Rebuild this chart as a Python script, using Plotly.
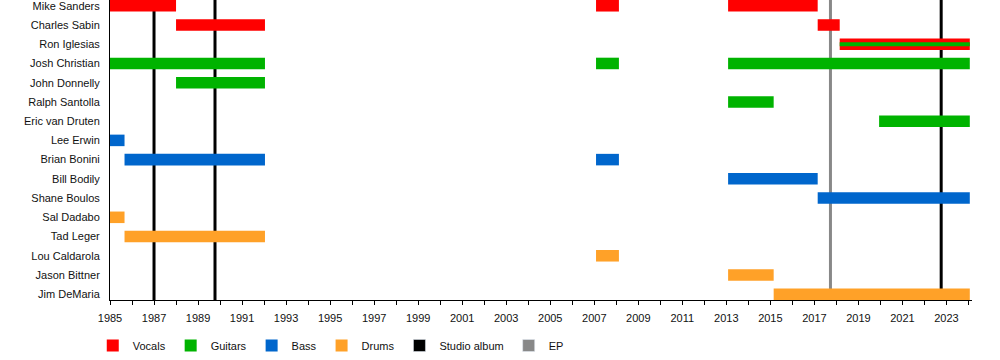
import plotly.graph_objects as go

members = ["Mike Sanders", "Charles Sabin", "Ron Iglesias", "Josh Christian", "John Donnelly",
           "Ralph Santolla", "Eric van Druten", "Lee Erwin", "Brian Bonini", "Bill Bodily",
           "Shane Boulos", "Sal Dadabo", "Tad Leger", "Lou Caldarola", "Jason Bittner", "Jim DeMaria"]

vocals_who = ["Mike Sanders", "Mike Sanders", "Mike Sanders", "Charles Sabin", "Charles Sabin", "Ron Iglesias"]
vocals_start = [1985.0, 2007.08, 2013.08, 1988.0, 2017.15, 2018.15]
vocals_end = [1988.0, 2008.12, 2017.15, 1992.04, 2018.15, 2024.06]

guitars_who = ["Josh Christian", "Josh Christian", "Josh Christian", "John Donnelly",
               "Ralph Santolla", "Eric van Druten"]
guitars_start = [1985.0, 2007.08, 2013.08, 1988.0, 2013.08, 2019.94]
guitars_end = [1992.04, 2008.12, 2024.06, 1992.04, 2015.15, 2024.06]

# secondary role (thin stripe)
second_guitars_who = ["Ron Iglesias"]
second_guitars_start = [2018.15]
second_guitars_end = [2024.06]

bass_who = ["Lee Erwin", "Brian Bonini", "Brian Bonini", "Bill Bodily", "Shane Boulos"]
bass_start = [1985.0, 1985.66, 2007.08, 2013.08, 2017.15]
bass_end = [1985.66, 1992.04, 2008.12, 2017.15, 2024.06]

drums_who = ["Sal Dadabo", "Tad Leger", "Lou Caldarola", "Jason Bittner", "Jim DeMaria"]
drums_start = [1985.0, 1985.66, 2007.08, 2013.08, 2015.15]
drums_end = [1985.66, 1992.04, 2008.12, 2015.15, 2024.06]

studio_albums = [1987.0, 1989.77, 2022.76]
eps = [2017.73]

year_ticks = list(range(1985, 2025))
year_labels = [str(y) if y % 2 == 1 else "" for y in year_ticks]

colors = {"Vocals": "#FF0000", "Guitars": "#00B300", "Bass": "#0066CC", "Drums": "#FFA128",
          "Studio album": "#000000", "EP": "#888888"}

BAR_W = 0.6

fig = go.Figure()


def add_role(name, who, start, end, width=BAR_W, legend=True):
    fig.add_trace(go.Bar(
        orientation="h", y=who, base=start, x=[e - s for s, e in zip(start, end)],
        width=width, marker=dict(color=colors[name], line=dict(width=0)),
        name=name, showlegend=legend, hoverinfo="skip"))


add_role("Vocals", vocals_who, vocals_start, vocals_end)
add_role("Guitars", guitars_who, guitars_start, guitars_end)
add_role("Bass", bass_who, bass_start, bass_end)
add_role("Drums", drums_who, drums_start, drums_end)
add_role("Guitars", second_guitars_who, second_guitars_start, second_guitars_end, width=0.2, legend=False)

# legend-only entries for the release lines
for nm in ["Studio album", "EP"]:
    fig.add_trace(go.Bar(orientation="h", y=[None], x=[None], name=nm,
                         marker=dict(color=colors[nm]), showlegend=True))

for d in studio_albums:
    fig.add_shape(type="line", xref="x", yref="paper", x0=d, x1=d, y0=0, y1=1,
                  line=dict(color=colors["Studio album"], width=3), layer="below")
for d in eps:
    fig.add_shape(type="line", xref="x", yref="paper", x0=d, x1=d, y0=0, y1=1,
                  line=dict(color=colors["EP"], width=3), layer="below")

fig.update_layout(
    width=1000, height=360,
    margin=dict(l=110, r=28, t=0, b=60),
    barmode="overlay",
    plot_bgcolor="white", paper_bgcolor="white",
    font=dict(family="Liberation Sans, Arial, sans-serif", size=11, color="#111111"),
    legend=dict(orientation="h", x=-0.02, xanchor="left", yref="container", y=0.0,
                yanchor="bottom", font=dict(size=11), traceorder="normal", itemclick=False),
    xaxis=dict(range=[1985, 2024.16], tickmode="array", tickvals=year_ticks, ticktext=year_labels,
               showgrid=False, zeroline=False, showline=True, linecolor="black", linewidth=1,
               ticks="outside", ticklen=4, tickcolor="black", tickfont=dict(size=11),
               ticklabelstandoff=4, automargin=False),
    yaxis=dict(categoryorder="array", categoryarray=members, range=[15.30, -0.30],
               showgrid=False, zeroline=False, showline=True, linecolor="black", linewidth=1,
               ticks="", tickfont=dict(size=11), ticklabelstandoff=7, automargin=False),
)

fig.write_html("out.html", config={"displayModeBar": False},
               post_script="document.body.style.margin='0';document.body.style.overflow='hidden';")
